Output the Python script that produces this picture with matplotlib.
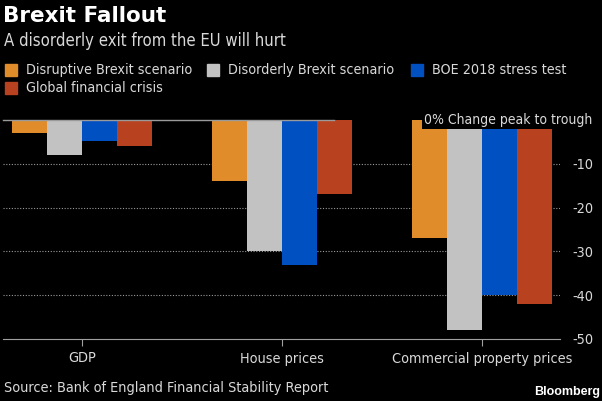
import matplotlib.pyplot as plt
import matplotlib.patches as mpatches
import numpy as np

# Data (% change peak to trough)
categories = ["GDP", "House prices", "Commercial property prices"]
series_names = ["Disruptive Brexit scenario", "Disorderly Brexit scenario",
                "BOE 2018 stress test", "Global financial crisis"]
disruptive = [-3, -14, -27]
disorderly = [-8, -30, -48]
boe_stress = [-4.7, -33, -40]
gfc = [-6, -17, -42]
colors = ["#E08C2A", "#C2C2C2", "#0050C2", "#B8411F"]

values = [disruptive, disorderly, boe_stress, gfc]
text_col = "#D9D9D9"

# condensed body text
plt.rcParams["font.family"] = "DejaVu Sans"
plt.rcParams["font.stretch"] = "condensed"
plt.rcParams["axes.unicode_minus"] = False
fs = 10.4

fig = plt.figure(figsize=(6.02, 4.01), dpi=100, facecolor="black")
ax = fig.add_axes([3 / 602, 1 - 339 / 401, 557 / 602, 219 / 401], facecolor="black")

x = np.arange(len(categories))
w = 0.175
for i, (vals, c) in enumerate(zip(values, colors)):
    ax.bar(x + (i - 1.5) * w, vals, width=w, color=c, zorder=3)

ax.set_xlim(-0.395, 2.39)
ax.set_ylim(-50, 0)

# grid and axes styling
for yv in [-10, -20, -30, -40]:
    ax.axhline(yv, color="#9A9A9A", lw=0.8, ls=(0, (1, 1.5)), zorder=1)
ax.plot([-0.395, 1.26], [0, 0], color="#9A9A9A", lw=1, zorder=4, clip_on=False)
for s in ["top", "left", "right"]:
    ax.spines[s].set_visible(False)
ax.spines["bottom"].set_color("#A0A0A0")
ax.set_xticks(x)
ax.set_xticklabels(categories, fontsize=fs, color=text_col)
ax.tick_params(axis="x", colors="#A0A0A0", length=5, labelcolor=text_col, pad=4)
ax.yaxis.tick_right()
ax.set_yticks([-10, -20, -30, -40, -50])
ax.tick_params(axis="y", length=0, labelsize=fs, labelcolor=text_col, pad=9)
ax.text(592 / 602, 1 - 120 / 401, "0% Change peak to trough",
        transform=fig.transFigure, ha="right", va="center", fontsize=10,
        color=text_col, zorder=5,
        bbox=dict(facecolor="black", edgecolor="none", pad=1.5))

# titles
fig.text(3 / 602, 1 - 16 / 401, "Brexit Fallout", fontsize=15.5, fontweight="bold",
         family="DejaVu Sans", fontstretch="normal", color="white", va="center")
fig.text(4 / 602, 1 - 41 / 401, "A disorderly exit from the EU will hurt",
         fontsize=12, color=text_col, va="center")

# legend, placed by hand like the original
leg_pos = [(5, 70), (207, 70), (411, 70), (5, 88)]
for name, c, (px, py) in zip(series_names, colors, leg_pos):
    fig.patches.append(mpatches.Rectangle((px / 602, 1 - (py + 6) / 401), 12 / 602, 12 / 401,
                                          transform=fig.transFigure, color=c))
    fig.text((px + 21) / 602, 1 - py / 401, name, fontsize=10.3, color=text_col,
             va="center")

fig.text(4 / 602, 1 - 388 / 401, "Source: Bank of England Financial Stability Report",
         fontsize=fs, color=text_col, va="center")
fig.text(600 / 602, 1 - 392 / 401, "Bloomberg", fontsize=9, fontweight="bold",
         family="Liberation Sans", fontstretch="normal", color="white",
         ha="right", va="center")

fig.savefig("out.png", dpi=100, facecolor="black")
